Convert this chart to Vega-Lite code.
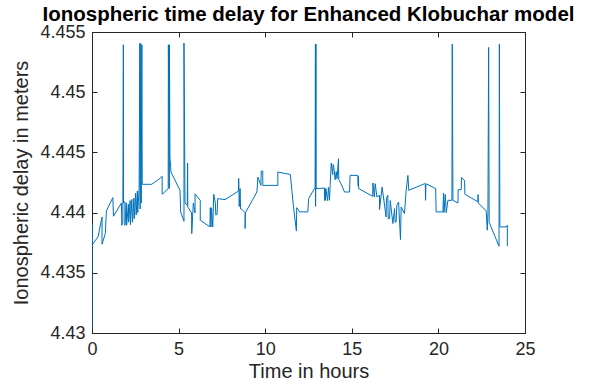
{
"$schema":"https://vega.github.io/schema/vega-lite/v6.json",
"autosize":{"type":"none"},
"padding":{"left":92,"top":32,"right":65,"bottom":52},
"width":433,"height":301,
"background":"white",
"title":{"text":"Ionospheric time delay for Enhanced Klobuchar model","font":"Liberation Sans","fontSize":20.5,"fontWeight":"bold","color":"#000000","anchor":"middle","offset":-2},
"config":{"view":{"stroke":"#262626","strokeWidth":1},"axis":{"grid":false,"domainColor":"#262626","tickColor":"#262626","labelColor":"#262626","titleColor":"#262626","labelFont":"Liberation Sans","titleFont":"Liberation Sans","labelFontSize":18,"titleFontSize":19,"titleFontWeight":"normal","tickSize":-5,"labelPadding":12,"labelFlush":false}},
"data":{"values":[
{"i":1,"time":0,"delay":4.43026},{"i":2,"time":0,"delay":4.43903},{"i":3,"time":0.04,"delay":4.43738},{"i":4,"time":0.35,"delay":4.43799},{"i":5,"time":0.58,"delay":4.43964},{"i":6,"time":0.58,"delay":4.43738},{"i":7,"time":0.77,"delay":4.43826},{"i":8,"time":0.83,"delay":4.44014},{"i":9,"time":1.2,"delay":4.44124},{"i":10,"time":1.24,"delay":4.4397},
{"i":11,"time":1.7,"delay":4.4408},{"i":12,"time":1.72,"delay":4.43895},{"i":13,"time":1.78,"delay":4.4392},{"i":14,"time":1.81,"delay":4.45394},{"i":15,"time":1.82,"delay":4.4408},{"i":16,"time":1.9,"delay":4.4409},{"i":17,"time":1.9,"delay":4.43895},{"i":18,"time":1.98,"delay":4.4408},{"i":19,"time":2.0,"delay":4.43895},{"i":20,"time":2.1,"delay":4.4407},
{"i":21,"time":2.12,"delay":4.4392},{"i":22,"time":2.2,"delay":4.441},{"i":23,"time":2.22,"delay":4.439},{"i":24,"time":2.3,"delay":4.4411},{"i":25,"time":2.34,"delay":4.4392},{"i":26,"time":2.42,"delay":4.4412},{"i":27,"time":2.44,"delay":4.4395},{"i":28,"time":2.52,"delay":4.4416},{"i":29,"time":2.55,"delay":4.4398},{"i":30,"time":2.62,"delay":4.4418},
{"i":31,"time":2.64,"delay":4.44},{"i":32,"time":2.72,"delay":4.442},{"i":33,"time":2.76,"delay":4.45405},{"i":34,"time":2.78,"delay":4.4403},{"i":35,"time":2.82,"delay":4.45405},{"i":36,"time":2.84,"delay":4.4408},{"i":37,"time":2.88,"delay":4.4539},{"i":38,"time":2.9,"delay":4.44235},{"i":39,"time":3.44,"delay":4.44235},{"i":40,"time":3.8,"delay":4.4427},
{"i":41,"time":4.05,"delay":4.44301},{"i":42,"time":4.05,"delay":4.44152},{"i":43,"time":4.4,"delay":4.44199},{"i":44,"time":4.41,"delay":4.45394},{"i":45,"time":4.46,"delay":4.44199},{"i":46,"time":4.47,"delay":4.45394},{"i":47,"time":4.5,"delay":4.44461},{"i":48,"time":4.56,"delay":4.44337},{"i":49,"time":5.08,"delay":4.44185},{"i":50,"time":5.12,"delay":4.44006},
{"i":51,"time":5.31,"delay":4.43928},{"i":52,"time":5.31,"delay":4.45408},{"i":53,"time":5.37,"delay":4.4408},{"i":54,"time":5.5,"delay":4.4406},{"i":55,"time":5.52,"delay":4.44411},{"i":56,"time":5.53,"delay":4.44047},{"i":57,"time":5.75,"delay":4.43997},{"i":58,"time":5.76,"delay":4.43826},{"i":59,"time":5.85,"delay":4.4408},{"i":60,"time":5.95,"delay":4.43997},
{"i":61,"time":5.95,"delay":4.44155},{"i":62,"time":6.25,"delay":4.44102},{"i":63,"time":6.25,"delay":4.43937},{"i":64,"time":6.81,"delay":4.43881},{"i":65,"time":6.83,"delay":4.44041},{"i":66,"time":6.87,"delay":4.43881},{"i":67,"time":6.9,"delay":4.4404},{"i":68,"time":6.97,"delay":4.43881},{"i":69,"time":7.03,"delay":4.44152},{"i":70,"time":7.12,"delay":4.4408},
{"i":71,"time":7.15,"delay":4.4398},{"i":72,"time":7.22,"delay":4.43986},{"i":73,"time":7.26,"delay":4.44116},{"i":74,"time":7.68,"delay":4.44108},{"i":75,"time":8.46,"delay":4.44179},{"i":76,"time":8.47,"delay":4.44284},{"i":77,"time":8.5,"delay":4.4405},{"i":78,"time":8.55,"delay":4.442},{"i":79,"time":8.58,"delay":4.4403},{"i":80,"time":8.61,"delay":4.44033},
{"i":81,"time":8.84,"delay":4.44},{"i":82,"time":8.84,"delay":4.43868},{"i":83,"time":8.86,"delay":4.44},{"i":84,"time":9.52,"delay":4.44171},{"i":85,"time":9.58,"delay":4.44295},{"i":86,"time":9.75,"delay":4.44226},{"i":87,"time":9.77,"delay":4.44345},{"i":88,"time":9.86,"delay":4.44345},{"i":89,"time":9.86,"delay":4.44226},{"i":90,"time":10.73,"delay":4.44226},
{"i":91,"time":10.73,"delay":4.44337},{"i":92,"time":11.45,"delay":4.44317},{"i":93,"time":11.54,"delay":4.44185},{"i":94,"time":11.64,"delay":4.44041},{"i":95,"time":11.8,"delay":4.43848},{"i":96,"time":11.82,"delay":4.44041},{"i":97,"time":12.0,"delay":4.44006},{"i":98,"time":12.46,"delay":4.44006},{"i":99,"time":12.51,"delay":4.44116},{"i":100,"time":12.84,"delay":4.44199},
{"i":101,"time":12.88,"delay":4.44199},{"i":102,"time":12.9,"delay":4.45399},{"i":103,"time":12.91,"delay":4.44052},{"i":104,"time":12.93,"delay":4.45399},{"i":105,"time":12.94,"delay":4.44199},{"i":106,"time":13.42,"delay":4.44204},{"i":107,"time":13.44,"delay":4.441},{"i":108,"time":13.46,"delay":4.442},{"i":109,"time":13.48,"delay":4.44102},{"i":110,"time":13.5,"delay":4.442},
{"i":111,"time":13.6,"delay":4.441},{"i":112,"time":13.65,"delay":4.4421},{"i":113,"time":13.71,"delay":4.44102},{"i":114,"time":13.75,"delay":4.44226},{"i":115,"time":13.81,"delay":4.44411},{"i":116,"time":13.9,"delay":4.44315},{"i":117,"time":13.92,"delay":4.444},{"i":118,"time":13.96,"delay":4.44378},{"i":119,"time":14.04,"delay":4.44273},{"i":120,"time":14.1,"delay":4.4434},
{"i":121,"time":14.15,"delay":4.4428},{"i":122,"time":14.23,"delay":4.44447},{"i":123,"time":14.25,"delay":4.44273},{"i":124,"time":14.38,"delay":4.4424},{"i":125,"time":14.58,"delay":4.44171},{"i":126,"time":14.87,"delay":4.44171},{"i":127,"time":14.9,"delay":4.44309},{"i":128,"time":15.35,"delay":4.44309},{"i":129,"time":15.37,"delay":4.4422},{"i":130,"time":15.38,"delay":4.443},
{"i":131,"time":15.4,"delay":4.44199},{"i":132,"time":16.21,"delay":4.44135},{"i":133,"time":16.22,"delay":4.44246},{"i":134,"time":16.3,"delay":4.4413},{"i":135,"time":16.35,"delay":4.4424},{"i":136,"time":16.45,"delay":4.4413},{"i":137,"time":16.6,"delay":4.44144},{"i":138,"time":16.6,"delay":4.44025},{"i":139,"time":16.75,"delay":4.44213},{"i":140,"time":16.98,"delay":4.43964},
{"i":141,"time":17.0,"delay":4.4412},{"i":142,"time":17.08,"delay":4.44144},{"i":143,"time":17.1,"delay":4.4395},{"i":144,"time":17.18,"delay":4.4395},{"i":145,"time":17.22,"delay":4.441},{"i":146,"time":17.37,"delay":4.43909},{"i":147,"time":17.47,"delay":4.44033},{"i":148,"time":17.5,"delay":4.4392},{"i":149,"time":17.56,"delay":4.43923},{"i":150,"time":17.6,"delay":4.4406},
{"i":151,"time":17.7,"delay":4.44088},{"i":152,"time":17.81,"delay":4.43776},{"i":153,"time":17.85,"delay":4.44047},{"i":154,"time":18.04,"delay":4.43992},{"i":155,"time":18.14,"delay":4.44185},{"i":156,"time":18.24,"delay":4.44309},{"i":157,"time":18.29,"delay":4.44185},{"i":158,"time":19.2,"delay":4.4424},{"i":159,"time":19.24,"delay":4.4424},{"i":160,"time":19.26,"delay":4.44102},
{"i":161,"time":19.28,"delay":4.4424},{"i":162,"time":19.84,"delay":4.44199},{"i":163,"time":19.87,"delay":4.44006},{"i":164,"time":20.26,"delay":4.44006},{"i":165,"time":20.3,"delay":4.44163},{"i":166,"time":20.32,"delay":4.44},{"i":167,"time":20.4,"delay":4.4415},{"i":168,"time":20.45,"delay":4.44},{"i":169,"time":20.55,"delay":4.44102},{"i":170,"time":20.78,"delay":4.44102},
{"i":171,"time":20.8,"delay":4.45399},{"i":172,"time":20.84,"delay":4.44102},{"i":173,"time":21.13,"delay":4.4408},{"i":174,"time":21.14,"delay":4.4419},{"i":175,"time":21.32,"delay":4.4419},{"i":176,"time":21.33,"delay":4.4429},{"i":177,"time":21.51,"delay":4.44268},{"i":178,"time":21.53,"delay":4.44152},{"i":179,"time":22.28,"delay":4.4409},{"i":180,"time":22.29,"delay":4.4415},
{"i":181,"time":22.3,"delay":4.4408},{"i":182,"time":22.76,"delay":4.44014},{"i":183,"time":22.82,"delay":4.43854},{"i":184,"time":22.86,"delay":4.44},{"i":185,"time":22.9,"delay":4.45372},{"i":186,"time":22.93,"delay":4.4392},{"i":187,"time":23.5,"delay":4.43721},{"i":188,"time":23.52,"delay":4.45399},{"i":189,"time":23.55,"delay":4.43881},{"i":190,"time":23.92,"delay":4.43881},
{"i":191,"time":23.98,"delay":4.43895},{"i":192,"time":23.98,"delay":4.43721}
]},
"layer":[
{"mark":{"type":"line","color":"#0072BD","strokeWidth":1,"clip":true},
 "encoding":{
  "x":{"field":"time","type":"quantitative","scale":{"domain":[0,25],"nice":false,"zero":false},"axis":{"orient":"bottom","title":"Time in hours","values":[0,5,10,15,20,25],"titleFontSize":20,"titlePadding":3}},
  "y":{"field":"delay","type":"quantitative","scale":{"domain":[4.43,4.455],"nice":false,"zero":false},"axis":{"orient":"left","title":"Ionospheric delay in meters","values":[4.43,4.435,4.44,4.445,4.45,4.455],"format":".3~f","titleFontSize":20,"titlePadding":8}},
  "order":{"field":"i","type":"quantitative"}
 }},
{"mark":{"type":"line","opacity":0},
 "encoding":{
  "x":{"field":"time","type":"quantitative","scale":{"domain":[0,25],"nice":false,"zero":false},"axis":{"orient":"top","title":null,"labels":false,"values":[0,5,10,15,20,25]}},
  "y":{"field":"delay","type":"quantitative","scale":{"domain":[4.43,4.455],"nice":false,"zero":false},"axis":{"orient":"right","title":null,"labels":false,"values":[4.43,4.435,4.44,4.445,4.45,4.455]}},
  "order":{"field":"i","type":"quantitative"}
 }}
],
"resolve":{"axis":{"x":"independent","y":"independent"}}
}
